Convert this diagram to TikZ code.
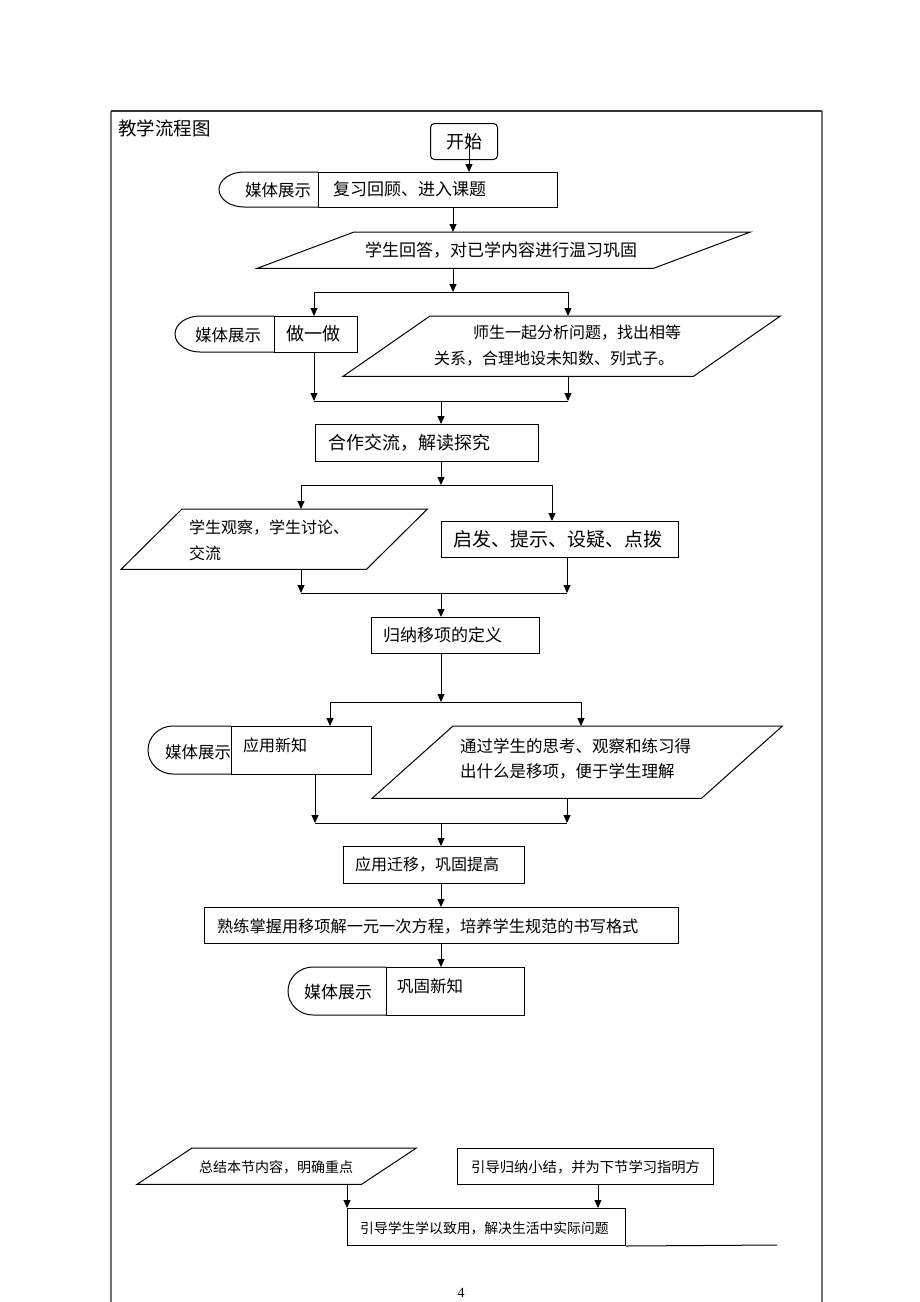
\documentclass[tikz,border=0pt]{standalone}
\usepackage{fontspec}
\setmainfont{Noto Sans CJK SC}
\newfontfamily\tnr{Liberation Serif}
\usetikzlibrary{arrows.meta,calc}
\newcommand\myfs[1]{\fontsize{#1pt}{#1pt}\selectfont}
\tikzset{
  shp/.style={draw=black, line width=1pt},
  box/.style={shp, rectangle, inner sep=0pt, anchor=north west},
  ln/.style={line width=1pt},
  arr/.style={line width=1pt, -{Triangle[length=8pt,width=7pt]}},
  lt/.style={inner sep=0pt, anchor=west},
  ct/.style={inner sep=0pt, anchor=center},
  frm/.style={draw=black!55, line width=1.4pt},
}
% name, lx, dx, rx, top, bottom
\newcommand\media[6]{%
  \pgfmathsetmacro\hh{(#6-#5)/2}%
  \draw[shp] (#3,#5) -- ({#2+25},#5) arc[start angle=90,end angle=270,x radius=25pt,y radius=\hh pt] -- (#3,#6);
  \node[box, minimum width=#4-#3, minimum height=#6-#5] (#1) at (#3,#5) {};
}
% name, x1, y1, x2, y2, slant
\newcommand\para[6]{%
  \node[inner sep=0pt, minimum width=#4-#2, minimum height=#5-#3, anchor=north west] (#1) at (#2,#3) {};
  \draw[shp] ($(#1.north west)+(#6,0)$) -- (#1.north east) -- ($(#1.south east)-(#6,0)$) -- (#1.south west) -- cycle;
}
% name, x1, y1, x2, y2
\newcommand\rbox[5]{%
  \node[box, minimum width=#4-#2, minimum height=#5-#3] (#1) at (#2,#3) {};
}
\begin{document}
\begin{tikzpicture}[x=1pt,y=-1pt]
\useasboundingbox (0,0) rectangle (920,1302);
\fill[white] (0,0) rectangle (920,1302);

% frame
\draw[frm] (111,1302) -- (111,111);
\draw[frm] (822,1302) -- (822,111);
\draw[line width=1.4pt, draw=black!80] (111,111) -- (822,111);
\node[lt, font=\myfs{18.5}] (title) at (118,128) {教学流程图};

% start
\node[shp, rounded corners=4pt, inner sep=0pt, minimum width=67, minimum height=36, anchor=north west, font=\myfs{18}] (start) at (430,123) {开始};

% media 1
\media{m1}{219}{318}{557}{172}{207}
\node[ct, font=\myfs{16.5}] (m1t) at (278,190) {媒体展示};
\node[lt, font=\myfs{17}] (m1r) at (333,189) {复习回顾、进入课题};
\coordinate (s0) at (469,134);
\draw[arr] (s0) -- (s0 |- m1.north);

% parallelogram 1
\para{p1}{257}{232}{750}{268}{97}
\node[ct, font=\myfs{17}] (p1t) at (501,250) {学生回答，对已学内容进行温习巩固};
\coordinate (c1) at (453,292);
\draw[arr] (m1.south -| c1) -- (p1.north -| c1);
\draw[arr] (p1.south -| c1) -- (c1);

% split 1
\coordinate (s1l) at (314,292);
\coordinate (s1r) at (568,292);
\draw[ln] (s1l) -- (s1r);

\media{m2}{175}{274}{357}{316}{352}
\node[ct, font=\myfs{16.5}] (m2t) at (228,335) {媒体展示};
\node[lt, font=\myfs{18}] (m2r) at (286,334) {做一做};
\para{p2}{343}{316}{780}{376}{87}
\node[lt, font=\myfs{16}] (p2a) at (473,333) {师生一起分析问题，找出相等};
\node[lt, font=\myfs{16}] (p2b) at (434,359) {关系，合理地设未知数、列式子。};
\draw[arr] (s1l) -- (s1l |- m2.north);
\draw[arr] (s1r) -- (s1r |- p2.north);

% merge 1
\coordinate (g1l) at (314,401);
\coordinate (g1r) at (568,401);
\coordinate (g1c) at (441,401);
\draw[arr] (m2.south -| g1l) -- (g1l);
\draw[arr] (p2.south -| g1r) -- (g1r);
\draw[ln] (g1l) -- (g1r);

\rbox{b1}{315}{424}{538}{461}
\node[lt, font=\myfs{18}] (b1t) at (328,443) {合作交流，解读探究};
\draw[arr] (g1c) -- (g1c |- b1.north);

% split 2
\coordinate (s2l) at (301,485);
\coordinate (s2r) at (552,485);
\coordinate (s2c) at (441,485);
\draw[arr] (b1.south -| s2c) -- (s2c);
\draw[ln] (s2l) -- (s2r);
\para{p3}{121}{509}{427}{569}{61}
\node[lt, font=\myfs{16}] (p3a) at (189,528) {学生观察，学生讨论、};
\node[lt, font=\myfs{16}] (p3b) at (189,553) {交流};
\rbox{b2}{441}{521}{678}{557}
\node[lt, font=\myfs{19}] (b2t) at (453,539) {启发、提示、设疑、点拨};
\draw[arr] (s2l) -- (s2l |- p3.north);
\draw[arr] (s2r) -- (s2r |- b2.north);

% merge 2
\coordinate (g2l) at (301,593);
\coordinate (g2r) at (567,593);
\coordinate (g2c) at (441,593);
\draw[arr] (p3.south -| g2l) -- (g2l);
\draw[arr] (b2.south -| g2r) -- (g2r);
\draw[ln] (g2l) -- (g2r);

\rbox{b3}{371}{617}{539}{653}
\node[lt, font=\myfs{17}] (b3t) at (383,635) {归纳移项的定义};
\draw[arr] (g2c) -- (g2c |- b3.north);

% split 3
\coordinate (s3l) at (330,702);
\coordinate (s3r) at (581,702);
\coordinate (s3c) at (441,702);
\draw[arr] (b3.south -| s3c) -- (s3c);
\draw[ln] (s3l) -- (s3r);
\media{m3}{148}{231}{371}{726}{774}
\node[ct, font=\myfs{16.5}] (m3t) at (198,752) {媒体展示};
\node[lt, font=\myfs{16}] (m3r) at (243,745) {应用新知};
\para{p4}{372}{726}{782}{798}{81}
\node[lt, font=\myfs{16.5}] (p4a) at (460,746) {通过学生的思考、观察和练习得};
\node[lt, font=\myfs{16.5}] (p4b) at (460,771) {出什么是移项，便于学生理解};
\draw[arr] (s3l) -- (s3l |- m3.north);
\draw[arr] (s3r) -- (s3r |- p4.north);

% merge 3
\coordinate (g3l) at (315,823);
\coordinate (g3r) at (567,823);
\coordinate (g3c) at (441,823);
\draw[arr] (m3.south -| g3l) -- (g3l);
\draw[arr] (p4.south -| g3r) -- (g3r);
\draw[ln] (g3l) -- (g3r);

\rbox{b4}{343}{846}{524}{883}
\node[lt, font=\myfs{16}] (b4t) at (355,865) {应用迁移，巩固提高};
\draw[arr] (g3c) -- (g3c |- b4.north);

\rbox{b5}{204}{907}{678}{943}
\node[lt, font=\myfs{16.2}] (b5t) at (217,926) {熟练掌握用移项解一元一次方程，培养学生规范的书写格式};
\coordinate (k1) at (441,900);
\draw[arr] (b4.south -| k1) -- (b5.north -| k1);

\media{m4}{288}{386}{524}{967}{1015}
\node[ct, font=\myfs{17}] (m4t) at (338,992) {媒体展示};
\node[lt, font=\myfs{16.5}] (m4r) at (397,986) {巩固新知};
\draw[arr] (b5.south -| k1) -- (m4.north -| k1);

% bottom section
\para{p5}{137}{1148}{416}{1184}{55}
\node[ct, font=\myfs{14}] (p5t) at (276,1167) {总结本节内容，明确重点};
\rbox{b6}{457}{1148}{713}{1184}
\node[lt, font=\myfs{14.3}] (b6t) at (471,1167) {引导归纳小结，并为下节学习指明方};
\rbox{b7}{347}{1208}{625}{1245}
\node[lt, font=\myfs{13.8}] (b7t) at (360,1228) {引导学生学以致用，解决生活中实际问题};
\coordinate (q1) at (347,1200);
\coordinate (q2) at (598,1200);
\draw[arr] (p5.south -| q1) -- (b7.north -| q1);
\draw[arr] (b6.south -| q2) -- (b7.north -| q2);
\coordinate (tailend) at (777,1245);
\draw[ln] (b7.south east) -- (tailend);

\node[ct, font=\tnr\myfs{14}] (pg) at (461,1293) {4};
\end{tikzpicture}
\end{document}
